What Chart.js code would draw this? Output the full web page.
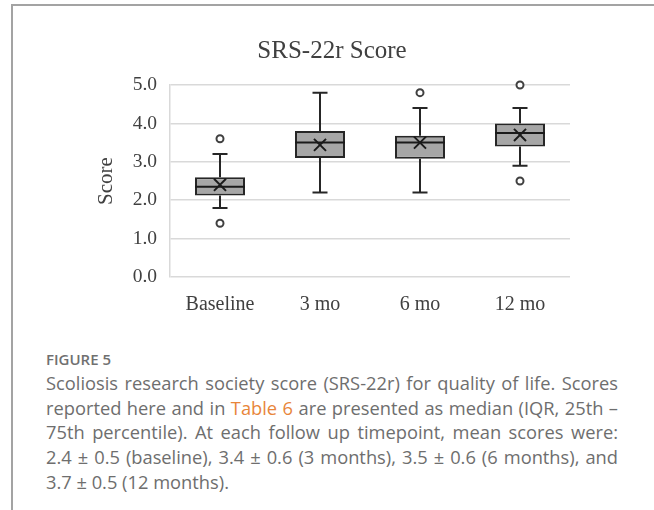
<!DOCTYPE html>
<html>
<head>
<meta charset="utf-8">
<script src="https://cdn.jsdelivr.net/npm/chart.js@4/dist/chart.umd.min.js"></script>
<style>
  html, body { margin: 0; padding: 0; background: #fff; }
  body { width: 654px; height: 510px; position: relative; overflow: hidden; }
  #frame { position: absolute; left: 11px; top: 4px; width: 700px; height: 600px;
           border-top: 2px solid #a3a3a3; border-left: 2px solid #a3a3a3; }
  #wrap { position: absolute; left: 0; top: 0; width: 654px; height: 330px; }
  #caption { position: absolute; left: 46px; top: 347px; width: 572px;
             font-family: "Open Sans", Lato, sans-serif; color: #6e6e6e; }
  #caption .fig { font-size: 15px; font-weight: 600; color: #707070; line-height: 24px; }
  #caption .ln { font-size: 18.3px; line-height: 24.7px; white-space: nowrap;
                 text-align: justify; text-align-last: justify; }
  #caption .ln.last { text-align-last: left; }
  #caption .lnk { color: #e8853a; }
</style>
</head>
<body>
<div id="frame"></div>
<div id="wrap"><canvas id="c" width="654" height="330"></canvas></div>
<div id="caption">
  <div class="fig">FIGURE 5</div>
  <div class="ln">Scoliosis research society score (SRS-22r) for quality of life. Scores</div>
  <div class="ln">reported here and in <span class="lnk">Table 6</span> are presented as median (IQR, 25th –</div>
  <div class="ln">75th percentile). At each follow up timepoint, mean scores were:</div>
  <div class="ln">2.4 ± 0.5 (baseline), 3.4 ± 0.6 (3 months), 3.5 ± 0.6 (6 months), and</div>
  <div class="ln last">3.7 ± 0.5 (12 months).</div>
</div>
<script>
const categories = ['Baseline', '3 mo', '6 mo', '12 mo'];
const whiskerMin = [1.8, 2.2, 2.2, 2.9];
const q1 = [2.12, 3.1, 3.08, 3.4];
const median = [2.35, 3.5, 3.5, 3.75];
const q3 = [2.6, 3.8, 3.68, 4.0];
const whiskerMax = [3.2, 4.8, 4.4, 4.4];
const means = [2.4, 3.44, 3.5, 3.7];
const outliers = [[1.4, 3.6], [], [4.8], [2.5, 5.0]];
const yTickValues = [0, 1, 2, 3, 4, 5];

const boxData = categories.map((c, i) => [q1[i], q3[i]]);
const outlierData = [];
categories.forEach((c, i) => outliers[i].forEach(v => outlierData.push({ x: c, y: v })));

const boxPlugin = {
  id: 'boxParts',
  beforeDatasetsDraw(chart) {
    const ctx = chart.ctx, xs = chart.scales.x, ys = chart.scales.y;
    ctx.save();
    ctx.strokeStyle = '#262626';
    ctx.lineWidth = 2;
    categories.forEach((c, i) => {
      const x = xs.getPixelForValue(i);
      const yTop = ys.getPixelForValue(whiskerMax[i]);
      const yQ3 = ys.getPixelForValue(q3[i]);
      const yQ1 = ys.getPixelForValue(q1[i]);
      const yBot = ys.getPixelForValue(whiskerMin[i]);
      ctx.beginPath();
      ctx.moveTo(x, yQ3); ctx.lineTo(x, yTop);
      ctx.moveTo(x - 7.5, yTop); ctx.lineTo(x + 7.5, yTop);
      ctx.moveTo(x, yQ1); ctx.lineTo(x, yBot);
      ctx.moveTo(x - 7.5, yBot); ctx.lineTo(x + 7.5, yBot);
      ctx.stroke();
    });
    ctx.restore();
  },
  afterDatasetDraw(chart, args) {
    if (args.index !== 0) return;
    const ctx = chart.ctx, ys = chart.scales.y;
    const meta = chart.getDatasetMeta(0);
    ctx.save();
    ctx.strokeStyle = '#1a1a1a';
    ctx.lineWidth = 2;
    meta.data.forEach((bar, i) => {
      const y = ys.getPixelForValue(median[i]);
      const half = bar.width / 2;
      ctx.beginPath();
      ctx.moveTo(bar.x - half, y); ctx.lineTo(bar.x + half, y);
      ctx.stroke();
    });
    ctx.restore();
  }
};

const serif = '"Liberation Serif", "Times New Roman", serif';
Chart.defaults.color = '#404040';
Chart.defaults.font.family = serif;

new Chart(document.getElementById('c'), {
  type: 'bar',
  data: {
    labels: categories,
    datasets: [
      {
        type: 'bar', data: boxData, order: 2,
        backgroundColor: '#a6a6a6', borderColor: '#262626', borderWidth: 2,
        borderSkipped: false, barPercentage: 0.5, categoryPercentage: 1.0
      },
      {
        type: 'line', data: outlierData, order: 1, showLine: false, clip: false,
        pointStyle: 'circle', pointRadius: 3.5, pointBorderWidth: 2,
        pointBackgroundColor: '#ffffff', pointBorderColor: '#404040'
      },
      {
        type: 'line', data: means, order: 0, showLine: false, clip: false,
        pointStyle: 'crossRot', pointRadius: 8.5, pointBorderWidth: 2,
        pointBorderColor: '#1a1a1a', pointBackgroundColor: '#1a1a1a'
      }
    ]
  },
  options: {
    responsive: false,
    animation: false,
    layout: { padding: { left: 94, right: 84, top: 10, bottom: 0 } },
    plugins: {
      legend: { display: false },
      tooltip: { enabled: false },
      title: {
        display: true, text: 'SRS-22r Score', color: '#404040',
        font: { family: serif, size: 25, weight: 'normal', lineHeight: 1.2 },
        padding: { top: 26.5, bottom: 18.5 }
      }
    },
    scales: {
      x: {
        grid: { display: false, drawTicks: false },
        border: { display: false },
        ticks: { font: { size: 20 }, padding: 16, color: '#404040' },
        afterFit(s) { s.height = 53; }
      },
      y: {
        min: 0, max: 5,
        afterBuildTicks(s) { s.ticks = yTickValues.map(v => ({ value: v })); },
        grid: { color: '#d9d9d9', lineWidth: 1.5, drawTicks: false },
        border: { display: true, color: '#d9d9d9', width: 1.5 },
        ticks: { font: { size: 19.5 }, padding: 13, color: '#404040',
                 callback: v => Number(v).toFixed(1) },
        title: { display: true, text: 'Score', color: '#404040',
                 font: { size: 21 }, padding: { top: 0, bottom: 0 } },
        afterFit(s) { s.width = 76; }
      }
    }
  },
  plugins: [boxPlugin]
});
</script>
</body>
</html>
